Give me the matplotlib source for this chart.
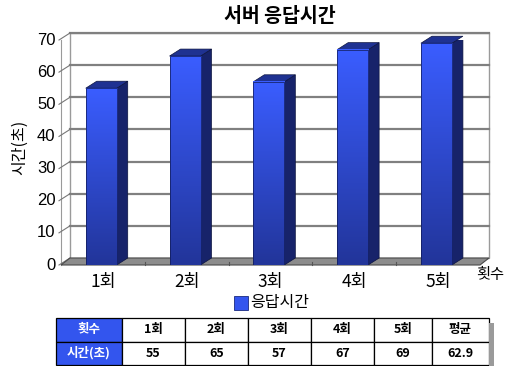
import numpy as np
import matplotlib
matplotlib.use('Agg')
import matplotlib.pyplot as plt
from matplotlib.patches import Polygon, Rectangle
from matplotlib.colors import LinearSegmentedColormap

plt.rcParams['font.family'] = ['Noto Sans CJK KR', 'DejaVu Sans']

# data
categories = ['1회', '2회', '3회', '4회', '5회']
times = [55, 65, 57, 67, 69]
avg_label = '평균'
avg_text = '62.9'
y_ticks = [0, 10, 20, 30, 40, 50, 60, 70]
title = '서버 응답시간'
x_title = '횟수'
y_title = '시간(초)'
series_name = '응답시간'

W, H = 508, 366
fig = plt.figure(figsize=(W / 100, H / 100), dpi=100)


def box(l, t, r, b):
    # pixel box -> figure fraction
    return [l / W, 1 - b / H, (r - l) / W, (b - t) / H]


ax = fig.add_axes(box(61, 40, 480, 265))
ax.set_xlim(-0.5, len(categories) - 0.5)
ax.set_ylim(0, 70)
ax.axis('off')


def shift(x, y, dx, dy):
    # move a data point by a pixel offset (the fake 3d depth)
    p = ax.transData.transform((x, y)) + np.array([dx, dy])
    return ax.transData.inverted().transform(p)


WALL = (9, 7)
BAR = (11, 7)
x0, x1 = -0.5, len(categories) - 0.5
grid_c = '#808080'

# back wall
wall = [shift(x0, 0, *WALL), shift(x1, 0, *WALL), shift(x1, 70, *WALL), shift(x0, 70, *WALL)]
ax.add_patch(Polygon(wall, closed=True, fc='white', ec='#9a9a9a', lw=1.0, zorder=1, clip_on=False))
for v in y_ticks[1:]:
    a, b = shift(x0, v, *WALL), shift(x1, v, *WALL)
    ax.plot([a[0], b[0]], [a[1], b[1]], color=grid_c, lw=1.6, zorder=2, clip_on=False)

# left side wall, ticks
ax.plot([x0, x0], [0, 70], color='#9a9a9a', lw=0.8, zorder=2, clip_on=False)
for v in y_ticks:
    a = shift(x0, v, -2, 0)
    b = shift(x0, v, *WALL)
    ax.plot([a[0], b[0]], [a[1], b[1]], color='#777777', lw=0.8, zorder=2, clip_on=False)
    ax.annotate(str(v), (x0, v), xytext=(-4, 0), textcoords='offset points',
                ha='right', va='center', fontsize=12, family='Liberation Sans',
                annotation_clip=False)

# floor
floor = [(x0, 0), (x1, 0), shift(x1, 0, *WALL), shift(x0, 0, *WALL)]
ax.add_patch(Polygon(floor, closed=True, fc='#8c8c8c', ec='#4a4a4a', lw=0.8, zorder=3, clip_on=False))
for i in range(1, len(categories)):
    b = shift(i - 0.5, 0, 0, 3)
    ax.plot([i - 0.5, b[0]], [0, b[1]], color='#555555', lw=0.8, zorder=3, clip_on=False)

# bars
w = 0.37
front_cmap = LinearSegmentedColormap.from_list('front', ['#22359a', '#3a5dff'])
grad = np.linspace(0, 1, 100).reshape(-1, 1)
for i, v in enumerate(times):
    l, r = i - w / 2 - 0.02, i + w / 2 - 0.02
    side = [(r, 0), (r, v), shift(r, v, *BAR), shift(r, 0, *BAR)]
    ax.add_patch(Polygon(side, closed=True, fc='#17236a', ec='#0c143f', lw=0.5, zorder=4))
    top = [(l, v), (r, v), shift(r, v, *BAR), shift(l, v, *BAR)]
    ax.add_patch(Polygon(top, closed=True, fc='#1f3292', ec='#0c143f', lw=0.5, zorder=4, clip_on=False))
    ax.imshow(grad, extent=[l, r, 0, v], origin='lower', aspect='auto', cmap=front_cmap, zorder=5)
    ax.add_patch(Rectangle((l, 0), r - l, v, fill=False, ec='#101a55', lw=0.5, zorder=6))
    ax.annotate(categories[i], (i, 0), xytext=(0, -12), textcoords='offset points',
                ha='center', va='center', fontsize=12.5, annotation_clip=False)

ax.set_xlim(x0, x1)
ax.set_ylim(0, 70)

fig.text(280 / W, 1 - 17 / H, title, ha='center', va='center', fontsize=14, fontweight='bold')
fig.text(20 / W, 1 - 147 / H, y_title, ha='center', va='center', fontsize=11.5, rotation=90)
fig.text(490 / W, 1 - 275 / H, x_title, ha='center', va='center', fontsize=11)

# legend
fig.patches.append(Rectangle((234 / W, 1 - 310 / H), 14 / W, 14 / H, transform=fig.transFigure,
                             fc='#3355ee', ec='#1a2a80', lw=0.6))
fig.text(250 / W, 1 - 302 / H, series_name, ha='left', va='center', fontsize=11.5)

# data table
tab = fig.add_axes(box(56, 318, 489, 365))
tab.axis('off')
rows = [[x_title] + categories + [avg_label],
        [y_title] + [str(t) for t in times] + [avg_text]]
widths = np.array([66, 63, 63, 63, 63, 58, 57], dtype=float)
tbl = tab.table(cellText=rows, colWidths=list(widths / widths.sum()), bbox=[0, 0, 1, 1], cellLoc='center')
tbl.auto_set_font_size(False)
for (r, c), cell in tbl.get_celld().items():
    cell.set_edgecolor('black')
    cell.set_linewidth(0.9)
    cell.get_text().set_fontsize(9)
    cell.get_text().set_fontweight('bold')
    if c == 0:
        cell.set_facecolor('#3355ee')
        cell.get_text().set_color('white')
tab.add_patch(Rectangle((1.0, -0.05), 0.012, 0.95, transform=tab.transAxes, fc='#9a9a9a',
                        ec='none', clip_on=False, zorder=0))

fig.savefig('out.png', dpi=100)
